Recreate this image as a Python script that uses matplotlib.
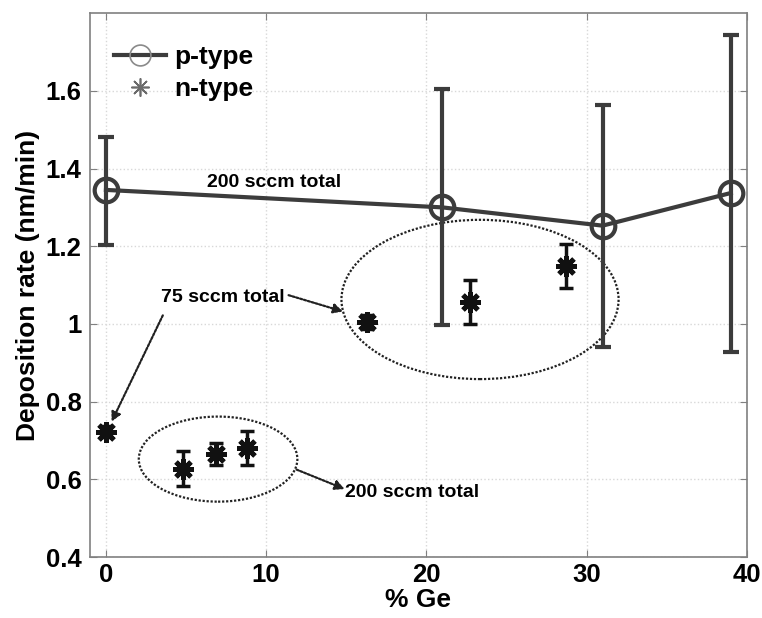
import numpy as np
import matplotlib.pyplot as plt
from matplotlib.patches import Ellipse
from matplotlib.lines import Line2D

plt.rcParams['font.family'] = ['Liberation Sans', 'DejaVu Sans']
plt.rcParams['font.weight'] = 'bold'

# p-type (200 sccm total)
p_ge = [0, 21, 31, 39]
p_rate = [1.345, 1.300, 1.253, 1.337]
p_low = [1.203, 0.997, 0.940, 0.929]
p_high = [1.480, 1.605, 1.564, 1.745]

# n-type
n_ge = [0, 4.8, 6.9, 8.8, 16.3, 22.7, 28.7]
n_rate = [0.723, 0.627, 0.666, 0.681, 1.005, 1.056, 1.149]
n_low = [0.708, 0.582, 0.637, 0.636, 0.988, 0.999, 1.093]
n_high = [0.738, 0.672, 0.694, 0.725, 1.022, 1.112, 1.205]

x_ticks = [0, 10, 20, 30, 40]
y_ticks = [0.4, 0.6, 0.8, 1.0, 1.2, 1.4, 1.6]
y_ticklabels = ['0.4', '0.6', '0.8', '1', '1.2', '1.4', '1.6']

DARK = '#3c3c3c'

fig = plt.figure(figsize=(7.62, 6.18), dpi=100)
ax = fig.add_axes([0.118, 0.0987, 0.862, 0.880])

p_err = [np.array(p_rate) - np.array(p_low), np.array(p_high) - np.array(p_rate)]
ax.errorbar(p_ge, p_rate, yerr=p_err, fmt='none', ecolor=DARK, elinewidth=3,
            capsize=6, capthick=3, zorder=3)
ax.plot(p_ge, p_rate, '-', color=DARK, lw=3, marker='o', ms=17,
        mfc='none', mec=DARK, mew=3, zorder=4)

n_err = [np.array(n_rate) - np.array(n_low), np.array(n_high) - np.array(n_rate)]
ax.errorbar(n_ge, n_rate, yerr=n_err, fmt='none', ecolor='#111111', elinewidth=2.5,
            capsize=5, capthick=2.5, zorder=3)
ax.plot(n_ge, n_rate, ls='none', marker=(8, 2, 0), ms=15, mec='#111111',
        mew=3.5, zorder=5)

# dotted ellipses grouping the n-type points
for (cx, cy, w, h) in [(7.0, 0.652, 9.9, 0.219), (23.35, 1.063, 17.3, 0.41)]:
    ax.add_patch(Ellipse((cx, cy), w, h, fill=False, ls=(0, (1, 0.8)), lw=1.6,
                         ec='#222222', zorder=2))

fs = 14
ax.text(10.5, 1.365, '200 sccm total', fontsize=fs, ha='center', va='center')
ax.text(7.3, 1.068, '75 sccm total', fontsize=fs, ha='center', va='center')
ax.text(14.95, 0.565, '200 sccm total', fontsize=fs, ha='left', va='center')

arr = dict(arrowstyle='-|>', ls=(0, (1, 0.8)), lw=1.6, color='#222222',
           mutation_scale=14, shrinkA=0, shrinkB=0)
ax.annotate('', xy=(14.8, 1.032), xytext=(11.4, 1.074), arrowprops=arr)
ax.annotate('', xy=(0.35, 0.748), xytext=(3.55, 1.022), arrowprops=arr)
ax.annotate('', xy=(14.9, 0.575), xytext=(11.9, 0.625), arrowprops=arr)

ax.set_xlim(-1, 40)
ax.set_ylim(0.4, 1.8)
ax.set_xticks(x_ticks)
ax.set_yticks(y_ticks)
ax.set_yticklabels(y_ticklabels)
ax.tick_params(direction='in', length=5, color='#808080', labelsize=18.5,
               top=True, right=True, pad=6)
ax.tick_params(axis='x', pad=4)
for lab in ax.get_xticklabels() + ax.get_yticklabels():
    lab.set_fontweight('bold')
for s in ax.spines.values():
    s.set_color('#808080')
    s.set_linewidth(1.2)
ax.grid(True, ls=':', color='#d8d8d8', lw=1)
ax.set_axisbelow(True)

ax.set_xlabel('% Ge', fontsize=19, fontweight='bold', labelpad=1)
ax.set_ylabel('Deposition rate (nm/min)', fontsize=19, fontweight='bold', labelpad=4)

handles = [
    Line2D([], [], color=DARK, lw=3, marker='o', ms=15, mfc='none', mec='#8a8a8a', mew=1.2),
    Line2D([], [], ls='none', marker=(8, 2, 0), ms=13, mec='#6a6a6a', mew=1.2),
]
ax.legend(handles, ['p-type', 'n-type'], loc='upper left', frameon=False,
          prop={'size': 19, 'weight': 'bold'}, handlelength=2.0, handletextpad=0.3,
          labelspacing=0.3, borderaxespad=0.5, bbox_to_anchor=(0.0, 0.985))

fig.savefig('out.png', dpi=100)
